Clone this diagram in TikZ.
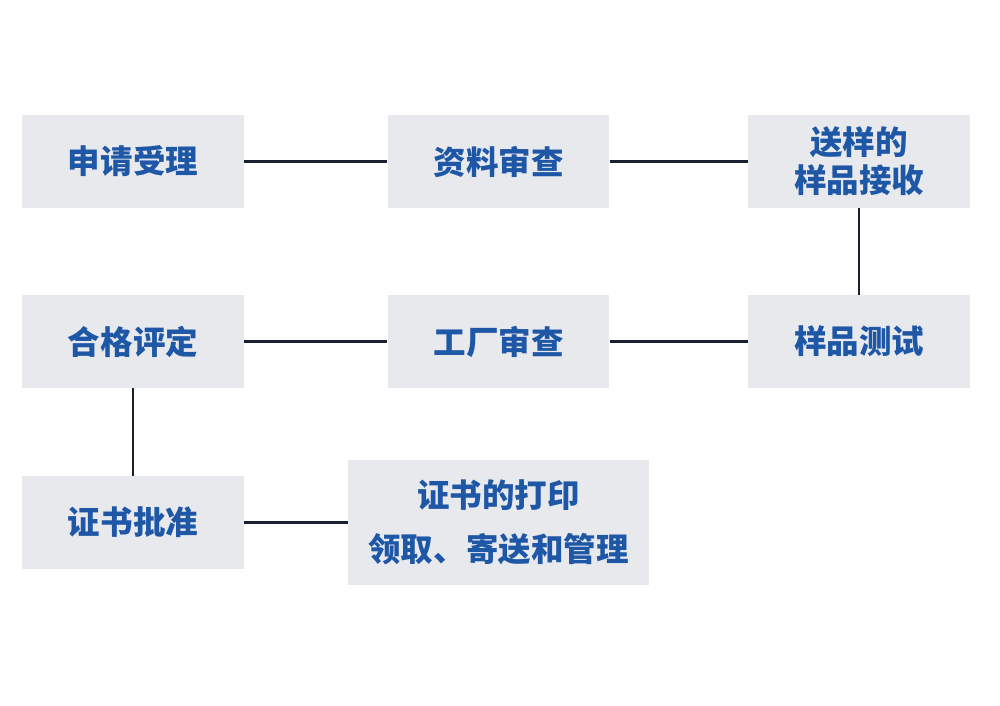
\documentclass[tikz,border=0pt]{standalone}
\usepackage{fontspec}
\setmainfont{Noto Sans CJK SC}
\definecolor{boxfill}{HTML}{E8E9ED}
\definecolor{txtblue}{HTML}{1E57A6}
\definecolor{linecol}{HTML}{1A2030}
\begin{document}
\begin{tikzpicture}[x=0.02cm,y=-0.02cm,
  box/.style={fill=boxfill, draw=none, minimum width=4.44cm, minimum height=1.86cm,
    inner sep=0pt, align=center, text=txtblue, font=\fontsize{18.5}{21.6}\selectfont\bfseries},
  conn/.style={draw=linecol, line width=1.35pt}]
\useasboundingbox (0,0) rectangle (1000,706);
\node[box] (a) at (133,161.5) {申请受理};
\node[box] (b) at (498.5,161.5) {资料审查};
\node[box] (c) at (859,161.5) {送样的\\样品接收};
\node[box] (f) at (133,341.5) {合格评定};
\node[box] (e) at (498.5,341.5) {工厂审查};
\node[box] (d) at (859,341.5) {样品测试};
\node[box] (g) at (133,522.5) {证书批准};
\node[box, minimum width=6.02cm, minimum height=2.52cm, font=\fontsize{18.5}{31}\selectfont\bfseries] (h) at (498.5,522.5) {证书的打印\\领取、寄送和管理};
\draw[conn] (a) -- (b);
\draw[conn] (b) -- (c);
\draw[conn] (c) -- (d);
\draw[conn] (d) -- (e);
\draw[conn] (e) -- (f);
\draw[conn] (f) -- (g);
\draw[conn] (g) -- (h);
\end{tikzpicture}
\end{document}
